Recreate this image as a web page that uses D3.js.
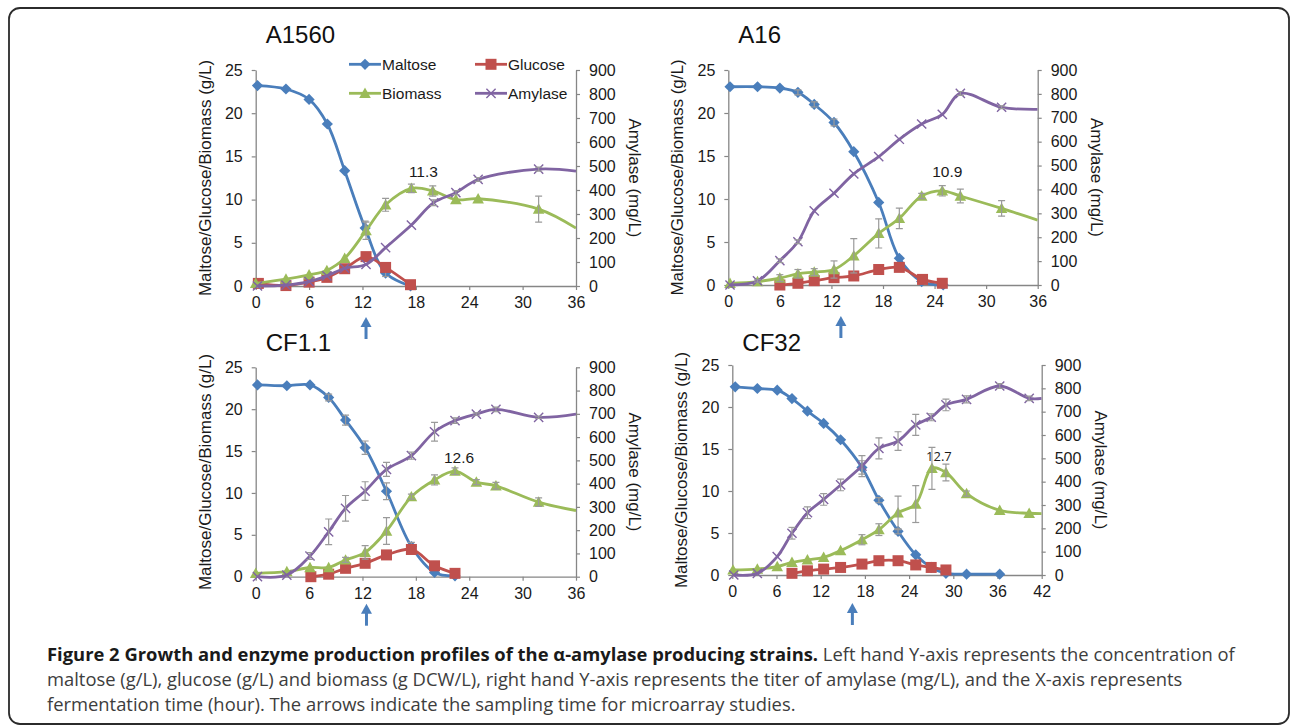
<!DOCTYPE html>
<html><head><meta charset="utf-8">
<script src="https://cdn.jsdelivr.net/npm/d3@7"></script>
<style>body{margin:0;background:#fff;} svg{display:block}</style>
</head><body><svg id="c" width="1292" height="725"></svg>
<script>
// ---------- DATA ----------
const panelNames = ["A1560", "A16", "CF1.1", "CF32"];
const xMaxes = [36, 36, 36, 42];
const xTickStep = 6;
const leftTicks = [0, 5, 10, 15, 20, 25];
const rightTicks = [0, 100, 200, 300, 400, 500, 600, 700, 800, 900];
const seriesNames = ["Maltose", "Glucose", "Biomass", "Amylase"];
const peakLabels = ["11.3", "10.9", "12.6", "12.7"];
const arrowTimes = [12.4, 13.1, 12.45, 16.3];

// A1560
const A1560_maltose = [[0.2,23.2],[3.4,22.8],[6,21.6],[8.05,18.75],[10,13.35],[12.3,6.7],[14.6,1.5],[17.4,0]];
const A1560_maltoseErr = [[12.3,0.8],[14.6,0.4]];
const A1560_glucose = [[0.3,0.3],[3.4,0.05],[6,0.45],[8,1.0],[10,2.0],[12.4,3.4],[14.6,2.15],[17.4,0.15]];
const A1560_biomass = [[0,0.3],[3.4,0.8],[6,1.3],[8,1.8],[10,3.2],[12.4,6.4],[14.6,9.4],[17.5,11.3],[19.9,11.0],[22.5,10.0],[25,10.1],[31.8,8.9],[36,6.7]];
const A1560_biomassErr = [[12.4,1.0],[14.6,0.75],[17.5,0.5],[19.9,0.6],[31.8,1.5]];
const A1560_amylase = [[0.2,0],[3.4,4],[6,18],[8,42],[10,74],[12.4,90],[14.6,160],[17.5,254],[20,347],[22.5,389],[25,444],[31.8,487],[36,479]];
const A1560_amylaseErr = [[20,12],[22.5,8],[25,8],[31.8,8]];

// A16
const A16_maltose = [[0.2,23.05],[3.4,23.05],[6,22.9],[8.1,22.4],[10,21.0],[12.3,18.9],[14.6,15.5],[17.5,9.6],[19.9,3.1],[22.5,0.4],[25,0]];
const A16_maltoseErr = [[8.1,0.3],[10,0.3],[12.3,0.4]];
const A16_glucose = [[6,0],[8.1,0.2],[10,0.5],[12.3,0.85],[14.6,1.05],[17.5,1.8],[19.9,2.05],[22.6,0.65],[24.9,0.2]];
const A16_biomass = [[0.2,0.2],[3.4,0.4],[6,0.8],[8.1,1.3],[10,1.5],[12.3,1.8],[14.6,3.4],[17.5,6.0],[19.9,7.75],[22.5,10.35],[24.9,10.95],[27,10.35],[31.8,8.9],[36,7.55]];
const A16_biomassErr = [[6,0.4],[8.1,0.5],[10,0.4],[12.3,1.0],[14.6,2.0],[17.5,1.7],[19.9,1.2],[22.5,0.3],[24.9,0.6],[27,0.8],[31.8,0.9]];
const A16_amylase = [[0.2,0],[3.4,17],[6,102],[8.1,181],[10,310],[12.3,384],[14.6,465],[17.5,537],[19.9,610],[22.5,674],[24.9,714],[27,802],[31.8,744],[36,735]];
const A16_amylaseErr = [[3.4,5],[6,8],[8.1,8],[27,8],[31.8,6]];

// CF1.1
const CF11_maltose = [[0.2,22.9],[3.5,22.8],[6.1,22.9],[8.2,21.4],[10.1,18.7],[12.3,15.4],[14.7,10.2],[17.5,3.6],[20.1,0.5],[22.4,0.1]];
const CF11_maltoseErr = [[8.2,0.4],[10.1,0.6],[12.3,0.8],[14.7,1.0],[17.5,0.5]];
const CF11_glucose = [[6.2,0],[8.2,0.3],[10.1,1.0],[12.3,1.6],[14.7,2.6],[17.5,3.25],[20.1,1.3],[22.4,0.4]];
const CF11_biomass = [[0,0.4],[3.5,0.6],[6.1,1.1],[8.2,1.1],[10.1,2.0],[12.3,2.9],[14.7,5.45],[17.5,9.55],[20.1,11.55],[22.4,12.6],[24.8,11.3],[27,10.85],[31.8,8.9],[36,7.9]];
const CF11_biomassErr = [[10.1,0.3],[12.3,0.8],[14.7,1.6],[17.5,0.3],[20.1,0.6],[22.4,0.4],[24.8,0.3],[27,0.4],[31.8,0.5]];
const CF11_amylase = [[0.2,0],[3.5,7],[6.1,89],[8.2,193],[10.1,294],[12.3,368],[14.7,461],[17.5,520],[20.1,623],[22.4,671],[24.8,699],[27,719],[31.8,685],[36,699]];
const CF11_amylaseErr = [[6.1,15],[8.2,55],[10.1,55],[12.3,40],[14.7,30],[17.5,15],[20.1,40],[22.4,12],[24.8,5],[27,10],[31.8,5]];

// CF32
const CF32_maltose = [[0.4,22.4],[3.4,22.2],[6.1,22.0],[8.1,21.0],[10.2,19.5],[12.4,18.05],[14.7,16.1],[17.6,12.8],[19.9,8.9],[22.5,5.2],[24.9,2.4],[27,0.9],[29,0.2],[31.8,0.1],[36.3,0.1]];
const CF32_maltoseErr = [[17.6,0.8],[19.9,0.3],[22.5,0.3]];
const CF32_glucose = [[8.1,0.2],[10.2,0.5],[12.4,0.7],[14.7,0.9],[17.6,1.3],[19.9,1.7],[22.5,1.7],[24.9,1.2],[27,0.9],[29,0.6]];
const CF32_biomass = [[0.1,0.6],[3.4,0.7],[6.1,1.0],[8.1,1.5],[10.2,1.8],[12.4,2.1],[14.7,2.9],[17.6,4.2],[19.9,5.4],[22.5,7.4],[24.9,8.45],[27.1,12.7],[29,12.2],[31.8,9.7],[36.3,7.7],[40.3,7.35],[42,7.3]];
const CF32_biomassErr = [[17.6,0.6],[19.9,0.7],[22.5,2.0],[24.9,2.2],[27.1,2.5],[29,1.0],[31.8,0.3]];
const CF32_amylase = [[0.2,0],[3.4,7],[6.1,79],[8.1,179],[10.2,267],[12.4,324],[14.7,386],[17.6,467],[19.9,543],[22.5,574],[24.9,643],[27,676],[29,729],[31.8,753],[36.3,810],[40.3,757],[42,757]];
const CF32_amylaseErr = [[8.1,25],[10.2,25],[12.4,25],[14.7,25],[17.6,45],[19.9,45],[22.5,40],[24.9,45],[27,15],[29,25],[31.8,15],[36.3,10],[40.3,10]];

const captionBold = "Figure 2 Growth and enzyme production profiles of the \u03b1-amylase producing strains.";
const captionLines = [
  " Left hand Y-axis represents the concentration of",
  "maltose (g/L), glucose (g/L) and biomass (g DCW/L), right hand Y-axis represents the titer of amylase (mg/L), and the X-axis represents",
  "fermentation time (hour). The arrows indicate the sampling time for microarray studies."
];

// ---------- STYLE / LAYOUT ----------
const colors = {Maltose:"#4A7EBB", Glucose:"#C0504D", Biomass:"#9BBB59", Amylase:"#8064A2"};
const axisColor = "#868686";
const FONT = "'Liberation Sans', Arial, sans-serif";
const layout = [
  {x0:255.7, x1:576,    y0:286,   y1:70,    titleDy:-27, arrowDy:31},
  {x0:728.3, x1:1037.7, y0:285,   y1:70,    titleDy:-27, arrowDy:31},
  {x0:255.7, x1:576,    y0:576.7, y1:367.3, titleDy:-16, arrowDy:27},
  {x0:732.3, x1:1041.7, y0:575,   y1:365,   titleDy:-14, arrowDy:28}
];
const peakOffsets = [[12,-17],[5,-19],[4,-14],[7,-12]];

const panelData = [
  {maltose:A1560_maltose, maltoseErr:A1560_maltoseErr, glucose:A1560_glucose, biomass:A1560_biomass, biomassErr:A1560_biomassErr, amylase:A1560_amylase, amylaseErr:A1560_amylaseErr},
  {maltose:A16_maltose, maltoseErr:A16_maltoseErr, glucose:A16_glucose, biomass:A16_biomass, biomassErr:A16_biomassErr, amylase:A16_amylase, amylaseErr:A16_amylaseErr},
  {maltose:CF11_maltose, maltoseErr:CF11_maltoseErr, glucose:CF11_glucose, biomass:CF11_biomass, biomassErr:CF11_biomassErr, amylase:CF11_amylase, amylaseErr:CF11_amylaseErr},
  {maltose:CF32_maltose, maltoseErr:CF32_maltoseErr, glucose:CF32_glucose, biomass:CF32_biomass, biomassErr:CF32_biomassErr, amylase:CF32_amylase, amylaseErr:CF32_amylaseErr}
];

const svg = d3.select("#c");

// frame
svg.append("rect").attr("x",9).attr("y",8).attr("width",1280).attr("height",716)
  .attr("rx",11).attr("fill","none").attr("stroke","#2b2b2b").attr("stroke-width",1.8);

function marker(g, type, cx, cy, color) {
  if (type === "Maltose") {
    const s = 5.6;
    g.append("path").attr("d", `M${cx},${cy-s}L${cx+s},${cy}L${cx},${cy+s}L${cx-s},${cy}Z`).attr("fill", color);
  } else if (type === "Glucose") {
    const s = 5.5;
    g.append("rect").attr("x", cx-s).attr("y", cy-s).attr("width", 2*s).attr("height", 2*s).attr("fill", color);
  } else if (type === "Biomass") {
    const s = 5.8;
    g.append("path").attr("d", `M${cx},${cy-s}L${cx+s},${cy+s*0.8}L${cx-s},${cy+s*0.8}Z`).attr("fill", color);
  } else {
    const s = 4.6;
    g.append("path").attr("d", `M${cx-s},${cy-s}L${cx+s},${cy+s}M${cx-s},${cy+s}L${cx+s},${cy-s}`)
      .attr("stroke", color).attr("stroke-width", 1.4).attr("fill","none");
  }
}

function drawPanel(i) {
  const L = layout[i], D = panelData[i], xmax = xMaxes[i];
  const g = svg.append("g");
  const x = d3.scaleLinear().domain([0, xmax]).range([L.x0, L.x1]);
  const yL = d3.scaleLinear().domain([0, 25]).range([L.y0, L.y1]);
  const yR = d3.scaleLinear().domain([0, 900]).range([L.y0, L.y1]);
  const xt = d3.range(0, xmax + 0.001, xTickStep);

  // axes
  const styleAxis = sel => {
    sel.select(".domain").attr("stroke", axisColor).attr("stroke-width", 1.3);
    sel.selectAll(".tick line").attr("stroke", axisColor).attr("stroke-width", 1.2);
    sel.selectAll(".tick text").attr("fill", "#1a1a1a").style("font-family", FONT).style("font-size", "16px");
  };
  g.append("g").attr("transform", `translate(${L.x0},0)`)
    .call(d3.axisLeft(yL).tickValues(leftTicks).tickSize(4).tickSizeOuter(0).tickPadding(9)).call(styleAxis);
  g.append("g").attr("transform", `translate(${L.x1},0)`)
    .call(d3.axisRight(yR).tickValues(rightTicks).tickSize(4).tickSizeOuter(0).tickPadding(9)).call(styleAxis);
  g.append("g").attr("transform", `translate(0,${L.y0})`)
    .call(d3.axisBottom(x).tickValues(xt).tickSize(4).tickSizeOuter(0).tickPadding(7)).call(styleAxis);

  // axis titles
  const midY = (L.y0 + L.y1) / 2;
  g.append("text").attr("transform", `translate(${L.x0 - 51},${midY}) rotate(-90)`)
    .attr("text-anchor","middle").attr("dy","0.35em").style("font-family",FONT).style("font-size","17px")
    .attr("fill","#1a1a1a").text("Maltose/Glucose/Biomass (g/L)");
  g.append("text").attr("transform", `translate(${L.x1 + 59},${midY}) rotate(90)`)
    .attr("text-anchor","middle").attr("dy","0.35em").style("font-family",FONT).style("font-size","17px")
    .attr("fill","#1a1a1a").text("Amylase (mg/L)");

  // panel title
  g.append("text").attr("x", L.x0 + 10).attr("y", L.y1 + L.titleDy).style("font-family",FONT).style("font-size","24px")
    .attr("fill","#111").text(panelNames[i]);

  // clip
  const cid = "clip" + i;
  svg.append("clipPath").attr("id", cid).append("rect")
    .attr("x", L.x0 - 8).attr("y", L.y1 - 20).attr("width", L.x1 - L.x0 + 8).attr("height", L.y0 - L.y1 + 30);
  const plot = g.append("g").attr("clip-path", `url(#${cid})`);

  const series = [
    {name:"Maltose", data:D.maltose, err:D.maltoseErr, y:yL},
    {name:"Glucose", data:D.glucose, err:null, y:yL},
    {name:"Biomass", data:D.biomass, err:D.biomassErr, y:yL},
    {name:"Amylase", data:D.amylase, err:D.amylaseErr, y:yR}
  ];
  series.forEach(s => {
    const col = colors[s.name];
    const line = d3.line().x(d => x(d[0])).y(d => s.y(d[1])).curve(d3.curveCatmullRom.alpha(0.5));
    plot.append("path").datum(s.data).attr("d", line).attr("fill","none")
      .attr("stroke", col).attr("stroke-width", 2.8).attr("stroke-linejoin","round");
    s.data.forEach(d => { if (d[0] < xmax - 0.01) marker(plot, s.name, x(d[0]), s.y(d[1]), col); });
    if (s.err) {
      s.err.forEach(e => {
        const pt = s.data.find(d => Math.abs(d[0] - e[0]) < 0.01);
        if (!pt) return;
        const cx = x(e[0]), ya = s.y(pt[1] + e[1]), yb = s.y(Math.max(0, pt[1] - e[1]));
        const eg = plot.append("g").attr("stroke","#9a9a9a").attr("stroke-width",1.2);
        eg.append("line").attr("x1",cx).attr("x2",cx).attr("y1",ya).attr("y2",yb);
        eg.append("line").attr("x1",cx-3.5).attr("x2",cx+3.5).attr("y1",ya).attr("y2",ya);
        eg.append("line").attr("x1",cx-3.5).attr("x2",cx+3.5).attr("y1",yb).attr("y2",yb);
      });
    }
  });

  // peak label
  const peak = D.biomass.reduce((a, b) => b[1] > a[1] ? b : a);
  g.append("text").attr("x", x(peak[0]) + peakOffsets[i][0]).attr("y", yL(peak[1]) + peakOffsets[i][1])
    .attr("text-anchor","middle").attr("dy","0.35em")
    .style("font-family", i === 3 ? "'Open Sans', sans-serif" : FONT).style("font-size", i === 3 ? "13px" : "15.5px")
    .attr("fill","#1a1a1a").text(peakLabels[i]);

  // arrow
  const ax = x(arrowTimes[i]), ay0 = L.y0 + L.arrowDy, ay1 = ay0 + 22;
  g.append("line").attr("x1",ax).attr("x2",ax).attr("y1",ay0+8).attr("y2",ay1)
    .attr("stroke", colors.Maltose).attr("stroke-width",3);
  g.append("path").attr("d", `M${ax},${ay0}L${ax+5.5},${ay0+10}L${ax-5.5},${ay0+10}Z`).attr("fill", colors.Maltose);

  // legend (first panel only)
  if (i === 0) {
    const lx = [349, 475], ly = [64.3, 93.3];
    seriesNames.forEach((n, k) => {
      const px = lx[k % 2], py = ly[Math.floor(k / 2)];
      g.append("line").attr("x1", px).attr("x2", px + 32).attr("y1", py).attr("y2", py)
        .attr("stroke", colors[n]).attr("stroke-width", 2.8);
      marker(g, n, px + 16, py, colors[n]);
      g.append("text").attr("x", px + 33).attr("y", py).attr("dy","0.35em")
        .style("font-family",FONT).style("font-size","15.5px").attr("fill","#1a1a1a").text(n);
    });
  }
}
[0,1,2,3].forEach(drawPanel);

// caption
const capFont = "'Open Sans', sans-serif";
const cap = svg.append("g").style("font-family", capFont);
const t1 = cap.append("text").attr("x", 47).attr("y", 661);
t1.append("tspan").attr("font-weight","bold").attr("fill","#1a1a1a").text(captionBold);
t1.append("tspan").attr("fill","#3d3d3d").text(captionLines[0]);
const t2 = cap.append("text").attr("x", 47).attr("y", 686).attr("fill","#3d3d3d").text(captionLines[1]);
const t3 = cap.append("text").attr("x", 47).attr("y", 711).attr("fill","#3d3d3d").text(captionLines[2]);
cap.selectAll("text").style("font-size","16px");
const w1 = t1.node().getComputedTextLength();
const fs = 16 * 1189 / w1;
cap.selectAll("text").style("font-size", fs + "px");
</script></body></html>
